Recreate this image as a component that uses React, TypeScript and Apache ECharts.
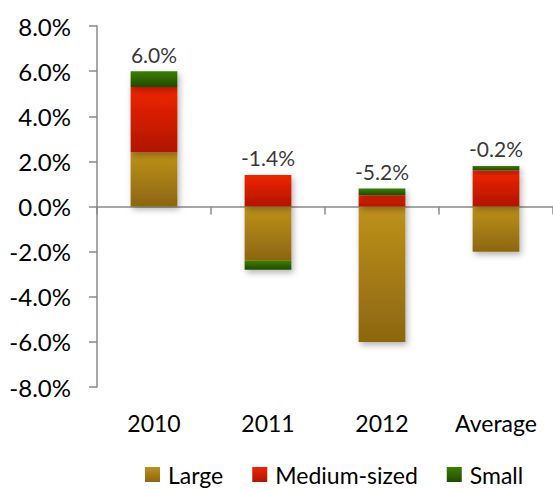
import React, { useEffect, useRef } from "react";
import * as echarts from "echarts";

const categories = ["2010", "2011", "2012", "Average"];
const largeValues = [2.4, -2.4, -6.0, -2.0];
const mediumValues = [2.9, 1.4, 0.5, 1.6];
const smallValues = [0.7, -0.4, 0.3, 0.2];
const totalLabels = ["6.0%", "-1.4%", "-5.2%", "-0.2%"];
const yTicks = { min: -8, max: 8, interval: 2 };

const FONT = "Lato";

function grad(top: string, bottom: string) {
  return new echarts.graphic.LinearGradient(0, 0, 0, 1, [
    { offset: 0, color: top },
    { offset: 1, color: bottom },
  ]);
}

export default function App() {
  const ref = useRef<HTMLDivElement>(null);
  useEffect(() => {
    if (!ref.current) return;
    const chart = echarts.init(ref.current, null, { renderer: "svg" });
    const posTop = categories.map((_, i) =>
      [largeValues[i], mediumValues[i], smallValues[i]]
        .filter((v) => v > 0)
        .reduce((a, b) => a + b, 0)
    );
    const shadow = {
      shadowBlur: 6,
      shadowColor: "rgba(0,0,0,0.3)",
      shadowOffsetX: 2,
      shadowOffsetY: 3,
    };
    const barCommon = {
      type: "bar" as const,
      stack: "total",
      barWidth: "41%",
      xAxisIndex: 0,
    };
    chart.setOption({
      animation: false,
      textStyle: { fontFamily: FONT },
      grid: { left: 97, right: 0, top: 26, bottom: 102, containLabel: false },
      legend: {
        left: 140,
        top: 458,
        icon: "rect",
        itemWidth: 15,
        itemHeight: 15,
        itemGap: 29,
        textStyle: { fontFamily: FONT, fontSize: 23, color: "#000", padding: [0, 0, 0, 3] },
        data: ["Large", "Medium-sized", "Small"],
      },
      xAxis: [
        {
          type: "category",
          data: categories,
          position: "top",
          axisLine: { onZero: true, lineStyle: { color: "#8a8a8a", width: 1.5 } },
          axisTick: { show: true, inside: true, length: 8, lineStyle: { color: "#8a8a8a", width: 1.5 } },
          axisLabel: { show: false },
          splitLine: { show: false },
        },
        {
          type: "category",
          data: categories,
          position: "bottom",
          axisLine: { show: false, onZero: false },
          axisTick: { show: false },
          axisLabel: { show: true, margin: 24, fontFamily: FONT, fontSize: 23, color: "#000" },
          splitLine: { show: false },
        },
      ],
      yAxis: {
        type: "value",
        min: yTicks.min,
        max: yTicks.max,
        interval: yTicks.interval,
        axisLine: { show: true, lineStyle: { color: "#8a8a8a", width: 1.5 } },
        axisTick: { show: true, length: 8, lineStyle: { color: "#8a8a8a", width: 1.5 } },
        axisLabel: {
          margin: 26,
          fontFamily: FONT,
          fontSize: 24,
          color: "#000",
          formatter: (v: number) => `${v.toFixed(1)}%`,
        },
        splitLine: { show: false },
      },
      series: [
        {
          ...barCommon,
          name: "Large",
          data: largeValues,
          itemStyle: { color: grad("#BE921B", "#8C6610"), ...shadow },
        },
        {
          ...barCommon,
          name: "Medium-sized",
          data: mediumValues,
          itemStyle: { color: grad("#F02400", "#B01500"), ...shadow },
        },
        {
          ...barCommon,
          name: "Small",
          data: smallValues,
          itemStyle: { color: grad("#3B8000", "#204A00"), ...shadow },
        },
        {
          type: "scatter",
          name: "Total",
          xAxisIndex: 0,
          data: posTop,
          symbolSize: 1,
          itemStyle: { color: "rgba(0,0,0,0)" },
          z: 10,
          label: {
            show: true,
            position: "top",
            distance: 6,
            fontFamily: FONT,
            fontSize: 21,
            color: "#000",
            formatter: (p: any) => totalLabels[p.dataIndex],
          },
        },
      ],
    });
    return () => chart.dispose();
  }, []);
  return (
    <div
      ref={ref}
      style={{ position: "fixed", left: 0, top: 0, width: 553, height: 489, background: "#fff" }}
    />
  );
}
